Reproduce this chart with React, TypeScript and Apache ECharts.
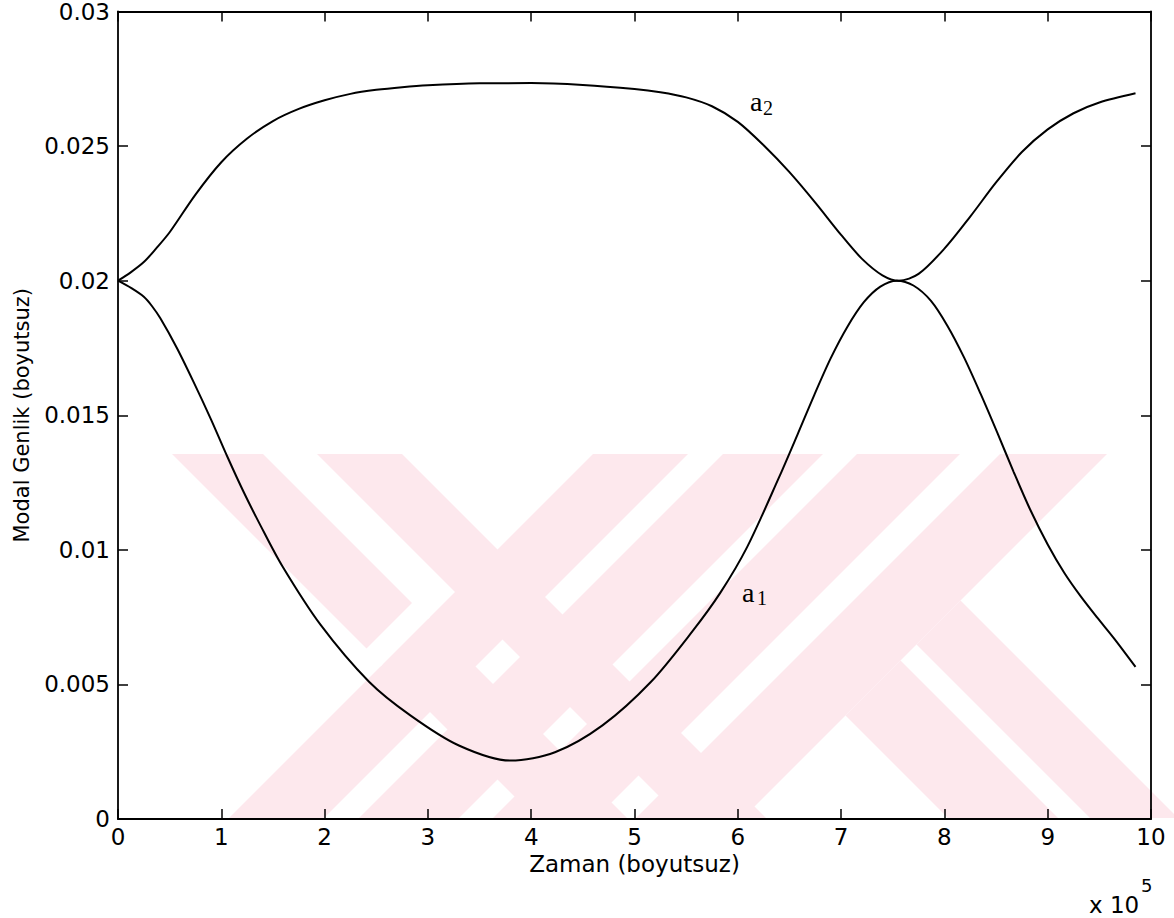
import React, { useEffect, useRef } from "react";
import * as echarts from "echarts";

// Time axis (x 10^5, dimensionless) and modal amplitudes
const xTickValues = [0, 1, 2, 3, 4, 5, 6, 7, 8, 9, 10];
const yTickLabels = ["0", "0.005", "0.01", "0.015", "0.02", "0.025", "0.03"];

const timeA1 = [
  0, 0.13, 0.25, 0.33, 0.41, 0.57, 0.73, 0.9, 1.06, 1.22, 1.38, 1.59, 1.96, 2.43,
  2.83, 3.3, 3.8, 4.23, 4.69, 5.16, 5.56, 5.83, 6.09, 6.4, 6.58, 6.74, 6.9, 7.06,
  7.22, 7.38, 7.54, 7.7, 7.87, 8.03, 8.19, 8.35, 8.51, 8.67, 8.83, 9.0, 9.16, 9.32,
  9.48, 9.64, 9.85,
];
const ampA1 = [
  0.02, 0.01972, 0.0194, 0.01905, 0.0186, 0.0175, 0.01625, 0.01485, 0.01345,
  0.01212, 0.0109, 0.0094, 0.00722, 0.0051, 0.00385, 0.00273, 0.00217, 0.00248,
  0.00348, 0.0051, 0.00697, 0.0084, 0.0101, 0.0127, 0.0143, 0.01575, 0.01712,
  0.01828, 0.0192, 0.01978, 0.02, 0.01982, 0.01925, 0.01832, 0.01715, 0.0158,
  0.01437, 0.0129, 0.0115, 0.0102, 0.00915, 0.00827, 0.00748, 0.00672, 0.00565,
];

const timeA2 = [
  0, 0.12, 0.25, 0.37, 0.5, 0.75, 1.0, 1.25, 1.5, 1.75, 2.0, 2.25, 2.5, 2.75, 3.0,
  3.5, 4.0, 4.5, 5.0, 5.25, 5.5, 5.75, 6.0, 6.25, 6.5, 6.75, 7.0, 7.2, 7.4, 7.56,
  7.75, 8.0, 8.25, 8.5, 8.75, 9.0, 9.25, 9.5, 9.85,
];
const ampA2 = [
  0.02, 0.0203, 0.02069, 0.0212, 0.0218, 0.0232, 0.0244, 0.02528, 0.02593,
  0.02638, 0.0267, 0.02694, 0.02709, 0.02719, 0.02726, 0.02733, 0.02734, 0.02727,
  0.02712, 0.027, 0.02681, 0.02648, 0.0259, 0.02503, 0.02403, 0.0229, 0.0217,
  0.02082, 0.0202, 0.02, 0.02025, 0.02119, 0.02238, 0.02365, 0.02478, 0.02562,
  0.02622, 0.02662, 0.02696,
];

const SANS = "'DejaVu Sans', 'Liberation Sans', sans-serif";
const SERIF = "'Liberation Serif', 'DejaVu Serif', serif";
const PINK = "#fde8ed";

// Background emblem: 45-degree bands between y = 454 and y = 818
const TOP = 454;
const BOT = 818;
const H = BOT - TOP;
const down = (a: number, b: number) => [
  [a, TOP], [b, TOP], [b + H, BOT], [a + H, BOT],
];
const up = (a: number, b: number) => [
  [a, TOP], [b, TOP], [b - H, BOT], [a - H, BOT],
];
// point where the lines x + y = s and x - y = d meet
const at = (s: number, d: number) => [(s + d) / 2, (s - d) / 2];
// band with x - y in [d0, d1], starting on the line x + y = s, running down to BOT
const leg = (s: number, d0: number, d1: number) => [
  at(s, d1), [BOT + d1, BOT], [BOT + d0, BOT], at(s, d0),
];
const emblem = [
  down(172, 263),
  down(317, 402),
  up(593, 688),
  up(723, 823),
  up(857, 960),
  up(1000, 1107),
  leg(1561, 272, 360),
  leg(1561, 130, 240),
];
// white gap where the first rising band crosses over the first falling band
const emblemGaps = [[at(1015, -286), at(1047, -286), at(1047, -187), at(1015, -187)]];

function boxAxis(kind: "x" | "y", position: string, withLabels: boolean) {
  const isX = kind === "x";
  return {
    type: "value",
    position,
    min: 0,
    max: isX ? 10 : 0.03,
    interval: isX ? 1 : 0.005,
    axisLine: { show: true, onZero: false, lineStyle: { color: "#000", width: 1.8 } },
    axisTick: { show: true, inside: true, length: 10, lineStyle: { color: "#000", width: 1.5 } },
    splitLine: { show: false },
    axisLabel: withLabels
      ? {
          show: true,
          color: "#000",
          fontFamily: SANS,
          fontSize: 23,
          margin: isX ? 6 : 8,
          formatter: isX
            ? (v: number) => String(xTickValues[Math.round(v)])
            : (v: number) => yTickLabels[Math.round(v / 0.005)],
        }
      : { show: false },
  };
}

export default function App() {
  const ref = useRef<HTMLDivElement>(null);

  useEffect(() => {
    if (!ref.current) return;
    const chart = echarts.init(ref.current, undefined, { renderer: "svg" });
    const seriesA1 = timeA1.map((t, i) => [t, ampA1[i]]);
    const seriesA2 = timeA2.map((t, i) => [t, ampA2[i]]);

    const xMain: any = boxAxis("x", "bottom", true);
    xMain.name = "Zaman (boyutsuz)";
    xMain.nameLocation = "middle";
    xMain.nameGap = 33;
    xMain.nameMoveOverlap = false;
    xMain.nameTextStyle = { color: "#000", fontFamily: SANS, fontSize: 23 };

    const yMain: any = boxAxis("y", "left", true);
    yMain.name = "Modal Genlik (boyutsuz)";
    yMain.nameLocation = "middle";
    yMain.nameGap = 86;
    yMain.nameMoveOverlap = false;
    yMain.nameTextStyle = { color: "#000", fontFamily: SANS, fontSize: 21 };

    const option: any = {
      animation: false,
      backgroundColor: "#fff",
      grid: { left: 118, right: 23, top: 11, bottom: 99, containLabel: false },
      xAxis: [xMain, boxAxis("x", "top", false)],
      yAxis: [yMain, boxAxis("y", "right", false)],
      graphic: [
        ...emblem.map((pts) => ({
          type: "polygon",
          silent: true,
          z: -10,
          shape: { points: pts },
          style: { fill: PINK },
        })),
        ...emblemGaps.map((pts) => ({
          type: "polygon",
          silent: true,
          z: -9,
          shape: { points: pts },
          style: { fill: "#fff" },
        })),
        { type: "text", z: 10, style: { text: "a", x: 750, y: 101.5, font: `28px ${SERIF}`, fill: "#000", align: "left", verticalAlign: "middle" } },
        { type: "text", z: 10, style: { text: "2", x: 763, y: 107.5, font: `20px ${SERIF}`, fill: "#000", align: "left", verticalAlign: "middle" } },
        { type: "text", z: 10, style: { text: "a", x: 742, y: 592, font: `28px ${SERIF}`, fill: "#000", align: "left", verticalAlign: "middle" } },
        { type: "text", z: 10, style: { text: "1", x: 757, y: 598, font: `20px ${SERIF}`, fill: "#000", align: "left", verticalAlign: "middle" } },
        { type: "text", z: 10, style: { text: "x 10", x: 1089, y: 904.5, font: `23px ${SANS}`, fill: "#000", align: "left", verticalAlign: "middle" } },
        { type: "text", z: 10, style: { text: "5", x: 1141, y: 885.5, font: `18px ${SANS}`, fill: "#000", align: "left", verticalAlign: "middle" } },
      ],
      series: [
        {
          name: "a1",
          type: "line",
          data: seriesA1,
          smooth: 0.3,
          showSymbol: false,
          lineStyle: { color: "#000", width: 2 },
          z: 5,
        },
        {
          name: "a2",
          type: "line",
          data: seriesA2,
          smooth: 0.3,
          showSymbol: false,
          lineStyle: { color: "#000", width: 2 },
          z: 5,
        },
      ],
    };
    chart.setOption(option);
    return () => chart.dispose();
  }, []);

  return (
    <div
      ref={ref}
      style={{ position: "fixed", left: 0, top: 0, width: 1174, height: 918, background: "#fff" }}
    />
  );
}
